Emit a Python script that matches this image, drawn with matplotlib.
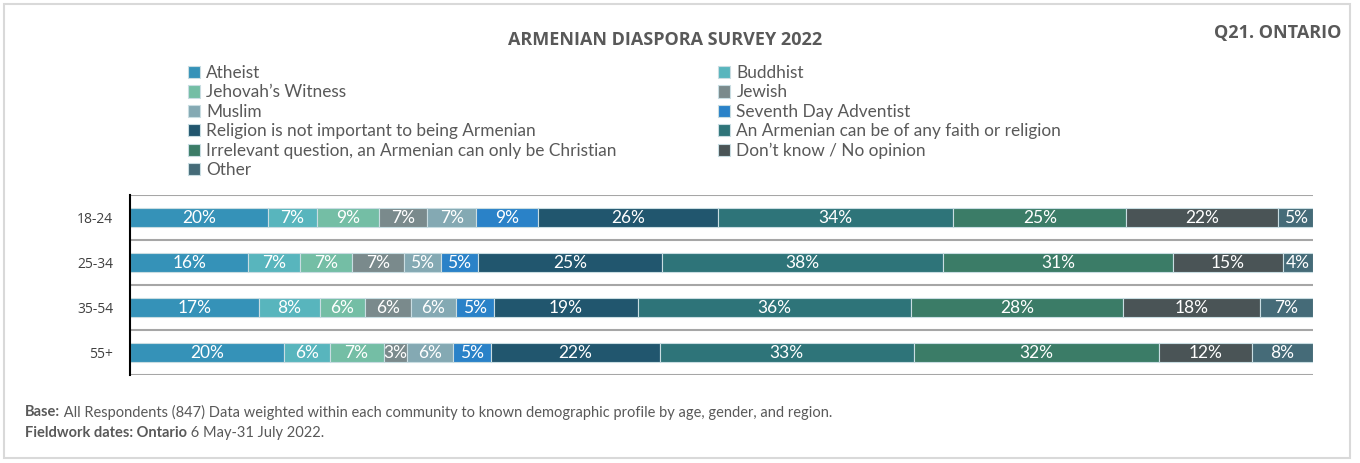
import matplotlib
matplotlib.use("Agg")
import matplotlib.pyplot as plt
import matplotlib.patches as mpatches
import numpy as np

categories = ["18-24", "25-34", "35-54", "55+"]
series_names = [
    "Atheist", "Buddhist", "Jehovah\u2019s Witness", "Jewish", "Muslim",
    "Seventh Day Adventist", "Religion is not important to being Armenian",
    "An Armenian can be of any faith or religion",
    "Irrelevant question, an Armenian can only be Christian",
    "Don\u2019t know / No opinion", "Other",
]
atheist = [20, 16, 17, 20]
buddhist = [7, 7, 8, 6]
jehovah = [9, 7, 6, 7]
jewish = [7, 7, 6, 3]
muslim = [7, 5, 6, 6]
seventh_day = [9, 5, 5, 5]
not_important = [26, 25, 19, 22]
any_faith = [34, 38, 36, 33]
only_christian = [25, 31, 28, 32]
dont_know = [22, 15, 18, 12]
other = [5, 4, 7, 8]

colors = ["#3592b8", "#58b5bd", "#74bea5", "#7a8a8c", "#84a9b3", "#2a82c8",
          "#21566e", "#2e7479", "#3b7c67", "#4a5456", "#456b78"]

series = [atheist, buddhist, jehovah, jewish, muslim, seventh_day,
          not_important, any_faith, only_christian, dont_know, other]

W, H = 1360, 463
fig = plt.figure(figsize=(W / 100, H / 100), dpi=100)

# outer frame
fig.patches.append(mpatches.Rectangle((4 / W, 1 - 458 / H), (1350 - 4) / W, (458 - 4) / H,
                                      transform=fig.transFigure, fill=False,
                                      edgecolor="#d9d9d9", linewidth=1.5))

ax = fig.add_axes([130 / W, 1 - 375 / H, (1313 - 130) / W, 180 / H])

data = np.array(series, dtype=float)  # shape (n_series, n_cat)
totals = data.sum(axis=0)
shares = data / totals
y = np.arange(len(categories))
left = np.zeros(len(categories))
handles = []
for i, name in enumerate(series_names):
    bars = ax.barh(y, shares[i], left=left, height=0.43, color=colors[i],
                   edgecolor="#c9dde2", linewidth=0.8, label=name)
    handles.append(bars)
    for j in range(len(categories)):
        ax.text(left[j] + shares[i][j] / 2, y[j] + 0.02, f"{int(data[i][j])}%",
                ha="center", va="center", color="white", fontsize=12.5,
                family="Lato")
    left += shares[i]

ax.set_xlim(0, 1)
ax.set_ylim(3.5, -0.5)
ax.set_yticks(y)
ax.set_yticklabels(categories, fontsize=10, color="#404040", family="Open Sans")
ax.tick_params(axis="y", length=0, pad=12)
ax.set_xticks([])
for yy in [-0.5, 0.5, 1.5, 2.5, 3.5]:
    ax.axhline(yy, color="#a6a6a6", linewidth=1.5, zorder=0)
for s in ["top", "right", "bottom"]:
    ax.spines[s].set_visible(False)
ax.spines["left"].set_color("black")
ax.spines["left"].set_linewidth(1.5)

# legend in two columns (row-major order as in reference)
left_idx = [0, 2, 4, 6, 8, 10]
right_idx = [1, 3, 5, 7, 9]
leg_kw = dict(frameon=False, handlelength=0.72, handleheight=0.72,
              handletextpad=0.35, labelspacing=0.2, borderaxespad=0, borderpad=0,
              labelcolor="#595959", prop={"family": "Lato", "size": 12.4})
leg1 = fig.legend([handles[i] for i in left_idx], [series_names[i] for i in left_idx],
                  loc="upper left", bbox_to_anchor=(188 / W, 1 - 65 / H), **leg_kw)
leg2 = fig.legend([handles[i] for i in right_idx], [series_names[i] for i in right_idx],
                  loc="upper left", bbox_to_anchor=(718 / W, 1 - 65 / H), **leg_kw)

fig.text(665 / W, 1 - 40 / H, "ARMENIAN DIASPORA SURVEY 2022", ha="center", va="center",
         fontsize=13, fontweight="bold", color="#595959", family="Open Sans")
fig.text(1341 / W, 1 - 33 / H, "Q21. ONTARIO", ha="right", va="center",
         fontsize=13, fontweight="bold", color="#595959", family="Open Sans")

foot_kw = dict(fontsize=10.5, color="#595959", family="Lato", va="center")
t1 = fig.text(25 / W, 1 - 412 / H, "Base:", fontweight="bold", **foot_kw)
ax.annotate(" All Respondents (847) Data weighted within each community to known demographic profile by age, gender, and region.",
            xy=(1, 0.5), xycoords=t1, ha="left", **foot_kw)
t2 = fig.text(25 / W, 1 - 433 / H, "Fieldwork dates: Ontario", fontweight="bold", **foot_kw)
ax.annotate(" 6 May-31 July 2022.", xy=(1, 0.5), xycoords=t2, ha="left", **foot_kw)

fig.savefig("out.png", dpi=100)
